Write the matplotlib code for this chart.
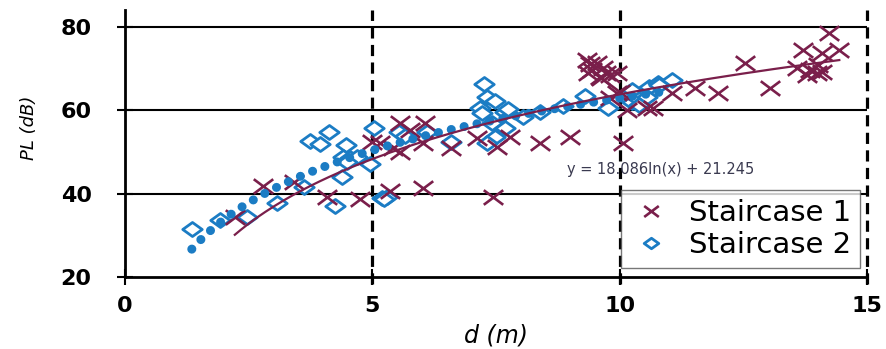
import numpy as np
import matplotlib
matplotlib.use('Agg')
import matplotlib.pyplot as plt
from matplotlib.path import Path

# Staircase 1 measurements (distance m, path loss dB)
d1 = [2.22, 2.79, 3.42, 4.08, 4.75, 5.0, 5.15, 5.41, 5.56, 5.56, 5.76, 6.06, 6.02, 6.6,
      7.11, 7.52, 7.78, 8.38, 8.99, 5.35, 6.02, 7.43, 9.33, 9.4, 9.45, 9.35, 9.6, 9.73,
      9.8, 9.94, 9.63, 9.54, 9.66, 9.94, 9.8, 10.0, 10.06, 10.14, 10.55, 10.67, 11.05,
      11.52, 11.98, 12.53, 13.03, 13.58, 13.7, 13.78, 13.84, 13.98, 14.0, 14.1, 14.1,
      14.24, 14.44]
pl1 = [34.4, 41.8, 42.8, 39.2, 38.7, 52.4, 52.2, 51.0, 50.0, 56.8, 55.3, 57.0, 52.2, 51.0,
       53.4, 51.2, 53.6, 52.2, 53.6, 40.6, 41.4, 39.2, 72.0, 71.0, 69.7, 69.0, 68.0, 69.0,
       68.5, 69.0, 67.8, 71.4, 70.2, 64.2, 63.0, 64.4, 52.2, 60.0, 60.5, 60.5, 64.2,
       65.4, 64.2, 71.4, 65.4, 70.2, 74.5, 68.5, 69.7, 69.0, 70.9, 73.8, 69.2,
       78.6, 74.5]

# Staircase 2 measurements
d2 = [1.35, 1.92, 2.47, 3.07, 3.62, 3.74, 3.94, 4.12, 4.46, 4.38, 4.24, 4.4, 4.55, 4.69,
      4.48, 5.03, 4.95, 5.2, 5.29, 5.24, 5.54, 5.66, 6.1, 6.6, 7.25, 7.31, 7.47, 7.17,
      7.21, 7.68, 7.74, 7.41, 7.68, 7.47, 7.31, 8.04, 8.38, 8.85, 9.29, 9.76, 10.24,
      10.34, 10.6, 10.55, 10.4, 10.77, 10.24, 11.05, 10.8]
pl2 = [31.6, 33.7, 34.3, 37.8, 41.5, 52.6, 52.0, 54.8, 51.6, 44.0, 37.0, 48.8, 48.6, 48.8,
       47.6, 55.8, 47.0, 39.0, 39.2, 38.8, 54.7, 53.9, 54.7, 52.4, 66.2, 63.2, 62.2, 60.4,
       59.4, 59.6, 60.2, 57.0, 55.8, 53.6, 52.2, 58.3, 59.5, 61.0, 63.5, 60.5, 62.0,
       63.2, 65.6, 63.2, 61.3, 66.6, 64.9, 67.3, 66.0]

# log trendline printed on the chart
fit2_a, fit2_b = 18.086, 21.245

maroon = '#7a1f4b'
blue = '#1b7cc4'

x_marker = Path([(-1, -0.75), (1, 0.75), (-1, 0.75), (1, -0.75)],
                [Path.MOVETO, Path.LINETO, Path.MOVETO, Path.LINETO])
diamond = Path([(-1, 0), (0, 0.72), (1, 0), (0, -0.72), (-1, 0)],
               [Path.MOVETO, Path.LINETO, Path.LINETO, Path.LINETO, Path.CLOSEPOLY])

fig = plt.figure(figsize=(8.87, 3.49), dpi=100)
ax = fig.add_axes([125 / 887, 1 - 277 / 349, 742 / 887, 267 / 349])
ax.set_xlim(0, 15)
ax.set_ylim(20, 84)

# grid
for yv in [40, 60, 80]:
    ax.axhline(yv, color='black', lw=1.5, zorder=1)
for xv in [5, 10, 15]:
    ax.axvline(xv, ymin=-0.025, ymax=1.0, color='black', lw=2.3,
               linestyle=(0, (3.5, 2.0)), clip_on=False, zorder=1)

# data
ax.plot(d2, pl2, linestyle='none', marker=diamond, ms=14, mfc='white',
        mec=blue, mew=2.0, zorder=3, label='Staircase 2')
ax.plot(d1, pl1, linestyle='none', marker=x_marker, ms=14, mec=maroon,
        mew=1.9, zorder=4, label='Staircase 1')

# trendlines
xx2 = np.linspace(min(d2), max(d2), 200)
ax.plot(xx2, fit2_a * np.log(xx2) + fit2_b, color=blue, lw=6.5,
        linestyle=(0, (0.01, 1.45)), dash_capstyle='round', zorder=5)
c1 = np.polyfit(np.log(d1), pl1, 1)
xx1 = np.linspace(min(d1), max(d1), 200)
ax.plot(xx1, c1[0] * np.log(xx1) + c1[1], color=maroon, lw=1.6, zorder=6)

ax.text(8.93, 45.7, 'y = 18.086ln(x) + 21.245', fontsize=10.5, color='#3a3a50',
        va='center', ha='left', zorder=7)

# axes styling
for s in ['top', 'right']:
    ax.spines[s].set_visible(False)
ax.spines['left'].set_linewidth(2)
ax.spines['bottom'].set_linewidth(2)
ax.spines['left'].set_zorder(8)
ax.set_xticks([0, 5, 10, 15])
ax.set_yticks([20, 40, 60, 80])
ax.tick_params(direction='inout', length=12, width=1.5, labelsize=16)
ax.tick_params(axis='y', pad=18)
ax.tick_params(axis='x', pad=8)
for lab in ax.get_xticklabels() + ax.get_yticklabels():
    lab.set_fontweight('bold')

ax.set_xlabel('d (m)', fontsize=17, fontstyle='italic', labelpad=5)
ax.set_ylabel('PL (dB)', fontsize=13, fontstyle='italic')
ax.yaxis.set_label_coords(-0.117, 0.558)

handles, labels = ax.get_legend_handles_labels()
leg = ax.legend(handles[::-1], labels[::-1], loc='lower right',
                bbox_to_anchor=(0.99, 0.034), borderaxespad=0, fontsize=21,
                frameon=True, fancybox=False, edgecolor='#555555',
                handletextpad=0.6, handlelength=1.4, borderpad=0.3,
                labelspacing=0.15, markerscale=0.75)
leg.get_frame().set_linewidth(1.0)
leg.set_zorder(10)

fig.savefig('out.png', dpi=100)
